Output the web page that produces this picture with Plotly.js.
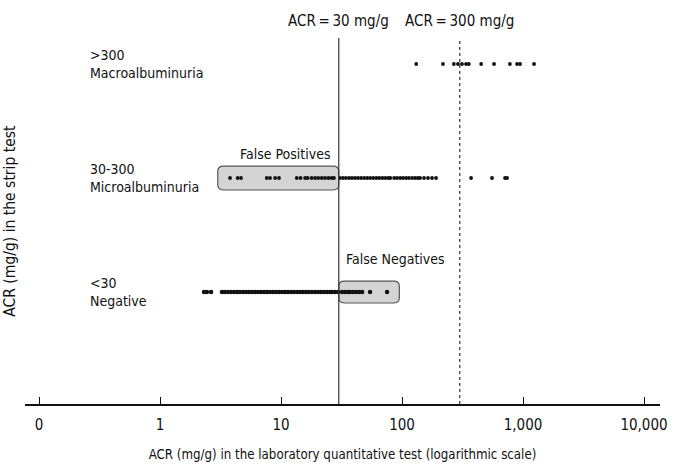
<!DOCTYPE html>
<html>
<head>
<meta charset="utf-8">
<script src="https://cdn.plot.ly/plotly-3.0.1.min.js"></script>
<style>html,body{margin:0;padding:0;background:#fff;}#chart{width:674px;height:468px;}</style>
</head>
<body>
<div id="chart"></div>
<script>
// ---- data (ACR mg/g, laboratory test), one array per strip-test category ----
const categories = ["Negative", "Microalbuminuria", "Macroalbuminuria"];
const categoryRanges = ["&lt;30", "30-300", "&gt;300"];
const negativeValues = [2.31, 2.44, 2.64,
  3.25, 3.44, 3.65, 3.86, 4.09, 4.33, 4.58, 4.85, 5.14, 5.44, 5.76, 6.10, 6.46, 6.83, 7.24, 7.66,
  8.11, 8.59, 9.09, 9.63, 10.2, 10.8, 11.4, 12.1, 12.8, 13.6, 14.4, 15.2, 16.1, 17.0, 18.0, 19.1,
  20.2, 21.4, 22.7, 24.0, 25.4, 26.3, 27.9, 29.6, 31.9, 33.8, 35.8, 37.2, 39.4, 41.7, 44.2, 46.8,
  54.4, 75.2];
const microValues = [3.79, 4.38, 4.67, 7.62, 8.11, 8.94, 9.63, 13.5, 14.5, 15.8, 16.6, 17.9, 19.1,
  20.3, 21.7, 23.1, 24.6, 26.2, 27.4, 30.7, 32.5, 34.4, 36.5, 38.6, 40.9, 43.3, 45.9, 48.7, 51.6,
  54.6, 57.9, 61.4, 65.0, 68.9, 73.0, 77.4, 80.0, 86, 91, 96.5, 102, 108, 114, 121, 128, 135, 141,
  152, 164, 177, 191, 372, 554, 710, 738];
const macroValues = [131, 218, 268, 290, 313, 338, 357, 451, 576, 779, 892, 945, 1233];
const tickValues = [0.1, 1, 10, 100, 1000, 10000];
const tickLabels = ["0", "1", "10", "100", "1,000", "10,000"];
const thresholds = [30, 300];
const thresholdLabels = ["ACR\u2009=\u200930 mg/g", "ACR\u2009=\u2009300 mg/g"];
const falsePositiveRange = [3, 30];
const falseNegativeRange = [30, 95];

const FONT = "'DejaVu Sans Condensed', 'Liberation Sans Narrow', sans-serif";
const L = Math.log10;
const X_RANGE_LOG = [-1.116, 4.132];

function strip(values, idx, size) {
  return {
    type: "scatter", mode: "markers",
    x: values, y: values.map(() => idx),
    marker: {color: "#111", size: size, line: {width: 0}},
    hoverinfo: "x", showlegend: false, name: categories[idx]
  };
}

// rounded boxes drawn on an invisible linear overlay axis (x2) that shares the log axis' decades
function roundedBox(xr, yc, hh) {
  const x0 = L(xr[0]), x1 = L(xr[1]), y0 = yc - hh, y1 = yc + hh;
  const rx = 0.045, ry = 0.045;
  return {
    type: "path", xref: "x2", yref: "y",
    path: `M ${x0 + rx},${y0} L ${x1 - rx},${y0} Q ${x1},${y0} ${x1},${y0 + ry} L ${x1},${y1 - ry} Q ${x1},${y1} ${x1 - rx},${y1} L ${x0 + rx},${y1} Q ${x0},${y1} ${x0},${y1 - ry} L ${x0},${y0 + ry} Q ${x0},${y0} ${x0 + rx},${y0} Z`,
    fillcolor: "#d4d4d4", line: {color: "#555", width: 1.2}, layer: "below"
  };
}

const traces = [
  strip(negativeValues, 0, 4.5),
  strip(microValues, 1, 3.8),
  strip(macroValues, 2, 3.8),
  {type: "scatter", mode: "markers", x: [], y: [], xaxis: "x2", yaxis: "y", showlegend: false, hoverinfo: "skip"}
];

const shapes = [
  roundedBox(falsePositiveRange, 1, 0.105),
  roundedBox(falseNegativeRange, 0, 0.096),
  {type: "line", xref: "x", yref: "paper", x0: thresholds[0], x1: thresholds[0], y0: 0, y1: 1,
   line: {color: "#333", width: 1.2}},
  {type: "line", xref: "x", yref: "paper", x0: thresholds[1], x1: thresholds[1], y0: 0, y1: 1,
   line: {color: "#333", width: 1.2, dash: "dot"}}
];

const annotations = [];
thresholds.forEach((t, i) => annotations.push({
  xref: "x", yref: "paper", x: L(t), y: 1, yanchor: "bottom", xanchor: "center", yshift: 6,
  text: thresholdLabels[i], showarrow: false, font: {family: FONT, size: 15, color: "#111"}
}));
categories.forEach((c, i) => annotations.push({
  xref: "paper", yref: "y", x: 0.099, y: i, xanchor: "left", yanchor: "middle",
  align: "left", text: categoryRanges[i] + "<br>" + c, showarrow: false,
  font: {family: FONT, size: 14, color: "#111"}
}));
annotations.push({
  xref: "x", yref: "y", x: L(falsePositiveRange[1]), y: 1.105, xanchor: "right", yanchor: "bottom",
  xshift: -6, yshift: 2, text: "False Positives", showarrow: false,
  font: {family: FONT, size: 14, color: "#111"}
});
annotations.push({
  xref: "x", yref: "y", x: L(falseNegativeRange[0]), y: 0.096, xanchor: "left", yanchor: "bottom",
  xshift: 5, yshift: 12, text: "False Negatives", showarrow: false,
  font: {family: FONT, size: 14, color: "#111"}
});
annotations.push({
  xref: "paper", yref: "paper", x: -0.024, y: 0.5, xanchor: "center", yanchor: "middle",
  textangle: -90, text: "ACR (mg/g) in the strip test", showarrow: false,
  font: {family: FONT, size: 15.5, color: "#111"}
});

const layout = {
  width: 674, height: 468,
  margin: {l: 25, r: 14, t: 38, b: 64},
  paper_bgcolor: "#fff", plot_bgcolor: "#fff",
  font: {family: FONT, color: "#111"},
  xaxis: {
    type: "log", range: X_RANGE_LOG,
    tickvals: tickValues, ticktext: tickLabels,
    ticks: "inside", ticklen: 7, tickwidth: 1, tickcolor: "#111",
    showline: true, linecolor: "#111", linewidth: 1.5,
    showgrid: false, zeroline: false, automargin: false,
    ticklabelstandoff: 6,
    tickfont: {family: FONT, size: 15, color: "#111"},
    title: {text: "ACR (mg/g) in the laboratory quantitative test (logarithmic scale)",
            font: {family: FONT, size: 13.2, color: "#111"}, standoff: 17}
  },
  xaxis2: {
    type: "linear", range: X_RANGE_LOG, overlaying: "x", visible: false,
    showgrid: false, zeroline: false, fixedrange: true
  },
  yaxis: {
    range: [-0.982, 2.228], showticklabels: false, ticks: "", showline: false,
    showgrid: false, zeroline: false, automargin: false
  },
  shapes: shapes,
  annotations: annotations,
  showlegend: false
};

Plotly.newPlot("chart", traces, layout, {displayModeBar: false, staticPlot: true});
</script>
</body>
</html>
